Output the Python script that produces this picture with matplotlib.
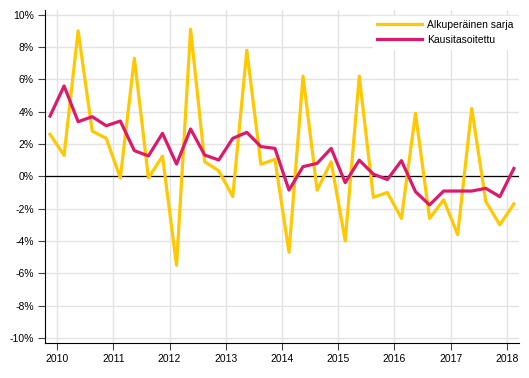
import numpy as np
import matplotlib
matplotlib.use("Agg")
import matplotlib.pyplot as plt

plt.rcParams['font.family'] = ['Liberation Sans', 'DejaVu Sans']

# quarterly change, %, 2010 Q1 .. 2018 Q2
original = [2.6, 1.3, 9.0, 2.8, 2.35, -0.1, 7.3, -0.1, 1.25,
            -5.5, 9.1, 0.9, 0.35, -1.25, 7.8, 0.75, 1.05,
            -4.7, 6.2, -0.85, 0.9, -4.0, 6.2, -1.3, -1.0,
            -2.6, 3.9, -2.6, -1.45, -3.6, 4.2, -1.55, -3.0, -1.7]
adjusted = [3.73, 5.59, 3.38, 3.69, 3.13, 3.42, 1.59, 1.26, 2.66,
            0.76, 2.93, 1.32, 1.01, 2.35, 2.72, 1.84, 1.73,
            -0.85, 0.6, 0.8, 1.73, -0.39, 1.0, 0.14, -0.2,
            0.97, -0.95, -1.77, -0.91, -0.91, -0.91, -0.74, -1.26, 0.49]
years = ['2010', '2011', '2012', '2013', '2014', '2015', '2016', '2017', '2018']
yticks = [-10, -8, -6, -4, -2, 0, 2, 4, 6, 8, 10]

x = np.arange(len(original))
year_pos = np.arange(len(years)) * 4 + 0.5

fig = plt.figure(figsize=(5.29, 3.78), dpi=100)
ax = fig.add_axes([0.085, 0.093, 0.896, 0.881])

ax.plot(x, original, color='#ffc800', lw=2.3, label='Alkuperäinen sarja', zorder=3)
ax.plot(x, adjusted, color='#dc1a6c', lw=2.3, label='Kausitasoitettu', zorder=4)
ax.axhline(0, color='black', lw=0.9, zorder=2)

ax.set_xlim(-0.36, 33.36)
ax.set_ylim(-10.3, 10.3)
ax.set_yticks(yticks)
ax.set_yticklabels([f'{v}%' for v in yticks])
ax.set_xticks(year_pos)
ax.set_xticklabels(years)

ax.grid(True, color='#e3e3e3', lw=1)
ax.set_axisbelow(True)
for s in ['top', 'right']:
    ax.spines[s].set_visible(False)
ax.spines['left'].set_color('black')
ax.spines['bottom'].set_color('black')
ax.tick_params(axis='both', labelsize=7.5, length=5, width=0.8, colors='#444444',
               labelcolor='black', pad=3)

leg = ax.legend(loc='upper right', bbox_to_anchor=(1, 0.985), fontsize=7.5,
                handlelength=4.3, handletextpad=0.5, frameon=True, fancybox=False,
                borderaxespad=0.1, labelspacing=0.45)
leg.get_frame().set_edgecolor('white')
leg.get_frame().set_facecolor('white')
leg.get_frame().set_alpha(1)
leg.set_zorder(5)

fig.savefig('out.png', dpi=100)
